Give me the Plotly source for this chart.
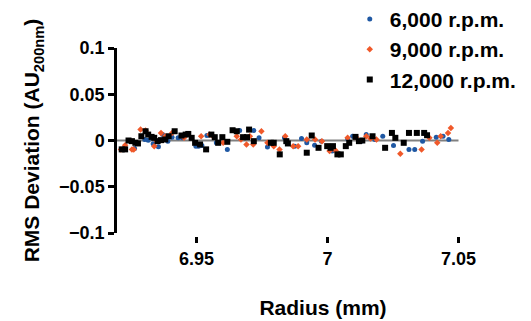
import plotly.graph_objects as go

# Radius (mm) and RMS deviation values per rotor speed
r_6000 = [6.9264, 6.9303, 6.9316, 6.9335, 6.9355, 6.9371, 6.9391, 6.9407, 6.9430, 6.9446,
          6.9498, 6.9508, 6.9521, 6.9540, 6.9576, 6.9618, 6.9641, 6.9665, 6.9719, 6.9739,
          6.9771, 6.9836, 6.9875, 6.9901, 6.9921, 6.9951, 6.9977, 7.0018, 7.0077, 7.0096,
          7.0129, 7.0148, 7.0181, 7.0211, 7.0252, 7.0311, 7.0333, 7.0363, 7.0415, 7.0441,
          7.0463]
v_6000 = [-0.0086, 0.0011, 0.0004, -0.0036, -0.0068, 0.0064, -0.0007, 0.0036, 0.0029, 0.0029,
          -0.0061, -0.0061, -0.0054, 0.0054, -0.0025, -0.0096, 0.0107, 0.0107, 0.0107, 0.0029,
          -0.0071, 0.0029, -0.0061, 0.0021, -0.0025, -0.0050, -0.0007, -0.0114, 0.0018, 0.0046,
          -0.0007, 0.0064, 0.0011, 0.0046, -0.0054, -0.0096, -0.0096, -0.0007, 0.0036, 0.0046,
          0.0011]

r_9000 = [6.9212, 6.9228, 6.9254, 6.9261, 6.9287, 6.9306, 6.9339, 6.9349, 6.9365, 6.9381,
          6.9407, 6.9453, 6.9518, 6.9550, 6.9563, 6.9602, 6.9654, 6.9670, 6.9691, 6.9704,
          6.9717, 6.9748, 6.9771, 6.9795, 6.9817, 6.9839, 6.9869, 6.9888, 6.9921, 6.9953,
          6.9979, 7.0008, 7.0031, 7.0077, 7.0109, 7.0148, 7.0164, 7.0187, 7.0278, 7.0359,
          7.0389, 7.0419, 7.0432, 7.0460, 7.0471]
v_9000 = [-0.0096, -0.0050, -0.0096, -0.0096, 0.0118, 0.0107, -0.0061, -0.0007, 0.0082, 0.0046,
          0.0082, 0.0029, 0.0046, 0.0064, 0.0046, -0.0025, 0.0046, 0.0011, -0.0043, 0.0046,
          -0.0043, 0.0100, -0.0025, -0.0061, -0.0096, 0.0046, -0.0061, -0.0061, 0.0011, 0.0011,
          -0.0007, -0.0114, -0.0107, 0.0029, 0.0036, 0.0046, 0.0021, 0.0011, -0.0143, -0.0096,
          0.0029, -0.0025, 0.0046, 0.0082, 0.0136]

r_12000 = [6.9215, 6.9228, 6.9241, 6.9254, 6.9267, 6.9277, 6.9290, 6.9306, 6.9316, 6.9329,
           6.9339, 6.9352, 6.9365, 6.9381, 6.9394, 6.9417, 6.9443, 6.9459, 6.9469, 6.9482,
           6.9495, 6.9514, 6.9537, 6.9557, 6.9570, 6.9583, 6.9599, 6.9618, 6.9638, 6.9654,
           6.9678, 6.9693, 6.9701, 6.9719, 6.9784, 6.9795, 6.9818, 6.9843, 6.9849, 6.9921,
           6.9940, 6.9966, 6.9999, 7.0012, 7.0021, 7.0038, 7.0051, 7.0070, 7.0083, 7.0107,
           7.0120, 7.0133, 7.0172, 7.0220, 7.0246, 7.0259, 7.0291, 7.0311, 7.0341, 7.0369,
           7.0380]
v_12000 = [-0.0096, -0.0096, 0.0000, -0.0007, -0.0025, -0.0032, 0.0046, 0.0100, 0.0064, 0.0039,
           0.0029, -0.0007, 0.0004, 0.0011, 0.0046, 0.0100, 0.0054, 0.0064, 0.0071, 0.0029,
           -0.0025, -0.0043, -0.0096, 0.0064, 0.0036, -0.0025, 0.0036, -0.0014, 0.0111, 0.0100,
           0.0036, 0.0036, 0.0118, -0.0007, -0.0025, -0.0025, -0.0150, -0.0007, -0.0032, -0.0132,
           0.0054, -0.0079, -0.0061, -0.0079, -0.0061, -0.0150, -0.0150, -0.0061, -0.0025, 0.0039,
           -0.0007, 0.0000, 0.0046, -0.0079, 0.0082, 0.0029, -0.0025, 0.0082, 0.0082, 0.0082,
           0.0057]

zero_x = [6.9197, 7.05]
zero_y = [0, 0]

x_ticks = [6.95, 7.0, 7.05]
x_ticktext = ["6.95", "7", "7.05"]
y_ticks = [-0.1, -0.05, 0, 0.05, 0.1]
y_ticktext = ["\u22120.1", "\u22120.05", "0", "0.05", "0.1"]

FONT = "Liberation Sans, Arial, Helvetica, sans-serif"

fig = go.Figure()
fig.add_trace(go.Scatter(x=zero_x, y=zero_y, mode="lines",
                         line=dict(color="#808080", width=2), showlegend=False, hoverinfo="skip"))
fig.add_trace(go.Scatter(x=r_6000, y=v_6000, mode="markers", name="6,000 r.p.m.",
                         legendgroup="a",
                         marker=dict(symbol="circle", size=5, color="#1f58a3")))
fig.add_trace(go.Scatter(x=r_9000, y=v_9000, mode="markers", name="9,000 r.p.m.",
                         legendgroup="b",
                         marker=dict(symbol="diamond", size=5, color="#f0592a")))
fig.add_trace(go.Scatter(x=r_12000, y=v_12000, mode="markers", name="12,000 r.p.m.",
                         legendgroup="c",
                         marker=dict(symbol="square", size=6, color="#000000")))

fig.update_layout(
    width=531, height=321,
    margin=dict(l=117, r=2, t=48, b=85, autoexpand=False),
    paper_bgcolor="white", plot_bgcolor="white",
    font=dict(family=FONT, color="black", size=18, weight="bold"),
    showlegend=True,
    legend=dict(x=0.565, y=1.262, xanchor="left", yanchor="top",
                font=dict(family=FONT, size=21, weight="bold", color="black"),
                bgcolor="rgba(0,0,0,0)", tracegroupgap=0, traceorder="grouped"),
    xaxis=dict(range=[6.9197, 7.0769], anchor="free", position=0,
               showline=False, showgrid=False, zeroline=False,
               ticks="outside", ticklen=6, tickwidth=2.5, tickcolor="black",
               tickvals=x_ticks, ticktext=x_ticktext, automargin=False,
               tickfont=dict(family=FONT, size=18, weight="bold"),
               title=dict(text="Radius (mm)", standoff=32,
                          font=dict(family=FONT, size=21, weight="bold"))),
    yaxis=dict(range=[-0.1, 0.1], domain=[3 / 188, 1],
               showline=True, linewidth=2.5, linecolor="black",
               showgrid=False, zeroline=False, automargin=False,
               ticks="outside", ticklen=6, tickwidth=2.5, tickcolor="black",
               tickvals=y_ticks, ticktext=y_ticktext,
               tickfont=dict(family=FONT, size=18, weight="bold"),
               title=dict(text="RMS Deviation (AU<sub>200nm</sub>)", standoff=14,
                          font=dict(family=FONT, size=21, weight="bold"))),
)

fig.write_html("out.html", config={"displayModeBar": False},
               post_script="document.body.style.margin='0';document.body.style.padding='0';")
